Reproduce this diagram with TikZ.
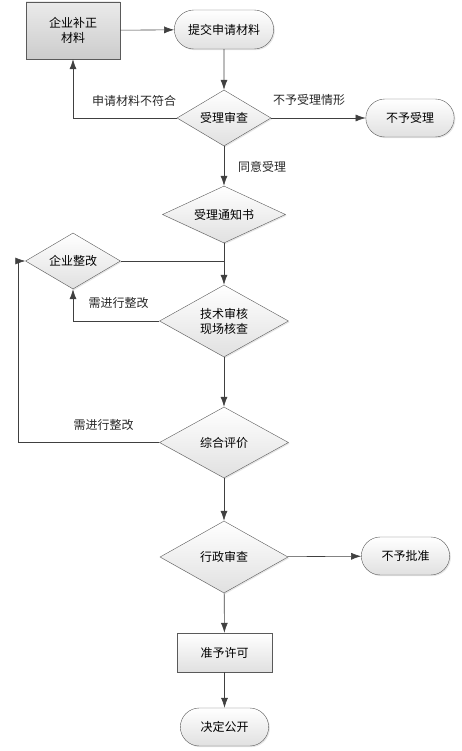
\documentclass[tikz,border=0pt]{standalone}
\usepackage{fontspec}
\setmainfont{Noto Sans CJK SC}
\usepackage{xcolor}
\usetikzlibrary{shapes,arrows,arrows.meta,positioning,shadows}

\definecolor{linegray}{HTML}{404040}
\definecolor{edgegray}{HTML}{5A5A5A}

\begin{document}
\begin{tikzpicture}[x=1pt, y=-1pt, >={Latex[length=10pt,width=7pt]}, font=\fontsize{12}{15}\selectfont,
  box/.style={draw=edgegray, top color=white, bottom color=black!12, drop shadow={opacity=0.2, shadow xshift=1.2pt, shadow yshift=-1.2pt}},
  decision/.style={box, diamond, aspect=2, inner sep=0pt, minimum width=94pt, minimum height=56pt, align=center},
  process/.style={box, rectangle, minimum width=95pt, minimum height=39pt, align=center},
  terminal/.style={box, rounded rectangle, minimum width=95pt, minimum height=38pt},
  flow/.style={->, draw=linegray, line width=0.6pt},
  tag/.style={inner sep=1pt, text=black!85}]
\useasboundingbox (0,0) rectangle (462,751);

\node[process, minimum width=94pt, minimum height=57pt, top color=black!8, bottom color=black!20] (buzheng) at (73,30.5) {企业补正\\材料};
\node[terminal, minimum width=106pt, minimum height=39pt] (tijiao) at (224,29.5) {提交申请材料};
\node[decision] (shencha) at (224,118) {受理审查};
\node[terminal] (buyu) at (410,118) {不予受理};
\node[decision, minimum width=123pt, minimum height=57pt] (tongzhi) at (224,214.5) {受理通知书};
\node[decision, minimum width=95pt] (zhenggai) at (73,261) {企业整改};
\node[decision, minimum width=129pt, minimum height=72pt] (jishu) at (224,321) {技术审核\\现场核查};
\node[decision, minimum width=129pt, minimum height=71pt] (pingjia) at (224,442.5) {综合评价};
\node[decision, minimum width=128pt, minimum height=72pt] (xingzheng) at (224,557) {行政审查};
\node[terminal] (bupizhun) at (405.5,556) {不予批准};
\node[process] (xuke) at (224.5,652.5) {准予许可};
\node[terminal] (gongkai) at (224.5,727) {决定公开};

\coordinate (huiliu) at (18,442.5);

\draw[flow] (buzheng) -- (tijiao);
\draw[flow] (tijiao) -- (shencha);
\draw[flow] (shencha.west) -| (buzheng.south);
\draw[flow] (shencha) -- (buyu);
\draw[flow] (shencha) -- (tongzhi);
\draw[flow] (tongzhi) -- (jishu);
\draw[draw=linegray, line width=0.6pt] (zhenggai.east) -- (zhenggai.east -| tongzhi.south);
\draw[flow] (jishu.west) -| (zhenggai.south);
\draw[flow] (jishu) -- (pingjia);
\draw[flow] (pingjia.west) -- (huiliu) |- (zhenggai.west);
\draw[flow] (pingjia) -- (xingzheng);
\draw[flow] (xingzheng) -- (bupizhun);
\draw[flow] (xingzheng) -- (xuke);
\draw[flow] (xuke) -- (gongkai);

\node[tag] (bufuhe) at (134,101) {申请材料不符合};
\node[tag] (qingxing) at (309,100) {不予受理情形};
\node[tag] (tongyi) at (262,166.5) {同意受理};
\node[tag] (zhenggai1) at (118.5,302.5) {需进行整改};
\node[tag] (zhenggai2) at (103.5,425) {需进行整改};

\end{tikzpicture}
\end{document}
